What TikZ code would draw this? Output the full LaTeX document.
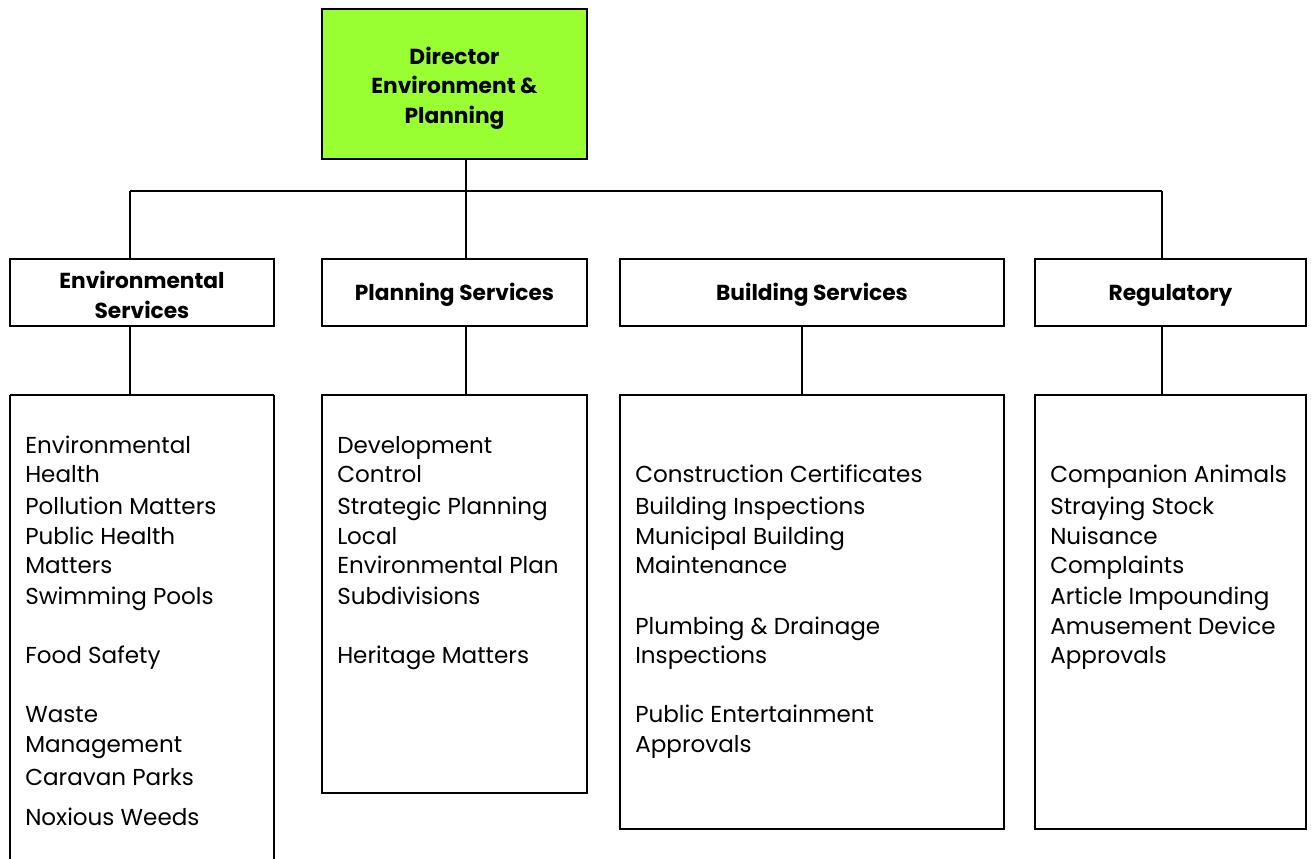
\documentclass[tikz,border=0pt]{standalone}
\usepackage{fontspec}
\setmainfont{Poppins}
\begin{document}
\begin{tikzpicture}[x=0.75pt,y=-0.75pt,
  box/.style={draw,line width=2.2pt,inner sep=0pt},
  conn/.style={line width=1.5pt},
  head/.style={font=\bfseries\fontsize{16.3}{22}\selectfont,align=center},
  item/.style={anchor=base west,inner sep=0pt,font=\fontsize{17.3}{20}\selectfont}]
\useasboundingbox (0,0) rectangle (1313,859);
\definecolor{dirgreen}{RGB}{153,255,51}
% top
\draw[box,fill=dirgreen] (322,9) rectangle (587,159);
\node[head] (dir) at (454.5,88) {Director\\Environment \&\\Planning};
\coordinate (dirB) at (466,159);
\coordinate (busM) at (466,191);
\coordinate (busL) at (130,191);
\coordinate (busR) at (1162,191);
% second row
\draw[box] (10,259) rectangle (274,326);
\draw[box] (322,259) rectangle (587,326);
\draw[box] (620,259) rectangle (1004,326);
\draw[box] (1035,259) rectangle (1306,326);
\node[head] (es) at (142,295) {Environmental\\Services};
\node[head] (ps) at (454.5,295) {Planning Services};
\node[head] (bs) at (812,295) {Building Services};
\node[head] (rs) at (1170.5,295) {Regulatory};
% third row
\draw[box] (10,395) -- (10,870);
\draw[box] (274,395) -- (274,870);
\draw[box] (10,395) -- (274,395);
\draw[box] (322,395) rectangle (587,793);
\draw[box] (620,395) rectangle (1004,829);
\draw[box] (1035,395) rectangle (1306,829);
% connectors
\draw[conn] (dirB) -- (busM);
\draw[conn] (busL) -- (busR);
\draw[conn] (busL) -- (130,259);
\draw[conn] (busM) -- (466,259);
\draw[conn] (busR) -- (1162,259);
\draw[conn] (130,326) -- (130,395);
\draw[conn] (466,326) -- (466,395);
\draw[conn] (802,326) -- (802,395);
\draw[conn] (1162,326) -- (1162,395);
% items
\foreach \t/\y [count=\i] in {Environmental/453,Health/482,Pollution Matters/514,Public Health/544,Matters/573,Swimming Pools/604,Food Safety/663,Waste/722,Management/752,Caravan Parks/785,Noxious Weeds/825}
  \node[item] (e\i) at (25,\y) {\t};
\foreach \t/\y [count=\i] in {Development/453,Control/482,Strategic Planning/514,Local/544,Environmental Plan/573,Subdivisions/604,Heritage Matters/663}
  \node[item] (p\i) at (337,\y) {\t};
\foreach \t/\y [count=\i] in {Construction Certificates/482,Building Inspections/514,Municipal Building/544,Maintenance/573,Plumbing \& Drainage/634,Inspections/663,Public Entertainment/722,Approvals/752}
  \node[item] (b\i) at (635,\y) {\t};
\foreach \t/\y [count=\i] in {Companion Animals/482,Straying Stock/514,Nuisance/544,Complaints/573,Article Impounding/604,Amusement Device/634,Approvals/663}
  \node[item] (r\i) at (1050,\y) {\t};
\end{tikzpicture}
\end{document}
